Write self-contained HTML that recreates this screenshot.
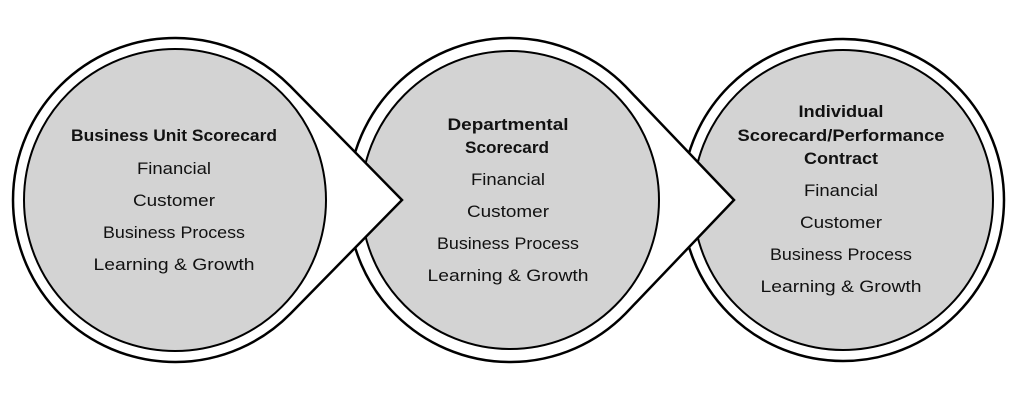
<!DOCTYPE html>
<html><head><meta charset="utf-8"><style>html,body{margin:0;padding:0;background:#fff;width:1024px;height:408px;overflow:hidden}</style></head>
<body>
<svg width="1024" height="408" viewBox="0 0 1024 408" xmlns="http://www.w3.org/2000/svg" font-family="Liberation Sans, sans-serif" font-size="17" fill="#111">
<circle cx="843" cy="200" r="161" fill="#fff" stroke="#000" stroke-width="2.5"/>
<circle cx="843" cy="200" r="150" fill="#d3d3d3" stroke="#000" stroke-width="2"/>
<path d="M734,200 L625.5,86.4 A162,162 0 1 0 625.5,313.6 Z" fill="#fff" stroke="#000" stroke-width="2.5"/>
<circle cx="510" cy="200" r="149" fill="#d3d3d3" stroke="#000" stroke-width="2"/>
<path d="M402,200 L290.5,86.4 A162,162 0 1 0 290.5,313.6 Z" fill="#fff" stroke="#000" stroke-width="2.5"/>
<circle cx="175" cy="200" r="151" fill="#d3d3d3" stroke="#000" stroke-width="2"/>
<g text-anchor="middle">
<text x="174" y="141" font-weight="bold" textLength="206" lengthAdjust="spacingAndGlyphs">Business Unit Scorecard</text>
<text x="174" y="174" textLength="74" lengthAdjust="spacingAndGlyphs">Financial</text>
<text x="174" y="206" textLength="82" lengthAdjust="spacingAndGlyphs">Customer</text>
<text x="174" y="238" textLength="142" lengthAdjust="spacingAndGlyphs">Business Process</text>
<text x="174" y="270" textLength="161" lengthAdjust="spacingAndGlyphs">Learning &amp; Growth</text>

<text x="508" y="130" font-weight="bold" textLength="121" lengthAdjust="spacingAndGlyphs">Departmental</text>
<text x="507" y="153" font-weight="bold" textLength="84" lengthAdjust="spacingAndGlyphs">Scorecard</text>
<text x="508" y="185" textLength="74" lengthAdjust="spacingAndGlyphs">Financial</text>
<text x="508" y="217" textLength="82" lengthAdjust="spacingAndGlyphs">Customer</text>
<text x="508" y="249" textLength="142" lengthAdjust="spacingAndGlyphs">Business Process</text>
<text x="508" y="281" textLength="161" lengthAdjust="spacingAndGlyphs">Learning &amp; Growth</text>

<text x="841" y="117" font-weight="bold" textLength="85" lengthAdjust="spacingAndGlyphs">Individual</text>
<text x="841" y="141" font-weight="bold" textLength="207" lengthAdjust="spacingAndGlyphs">Scorecard/Performance</text>
<text x="841" y="164" font-weight="bold" textLength="74" lengthAdjust="spacingAndGlyphs">Contract</text>
<text x="841" y="196" textLength="74" lengthAdjust="spacingAndGlyphs">Financial</text>
<text x="841" y="228" textLength="82" lengthAdjust="spacingAndGlyphs">Customer</text>
<text x="841" y="260" textLength="142" lengthAdjust="spacingAndGlyphs">Business Process</text>
<text x="841" y="292" textLength="161" lengthAdjust="spacingAndGlyphs">Learning &amp; Growth</text>
</g>
</svg>
</body></html>
